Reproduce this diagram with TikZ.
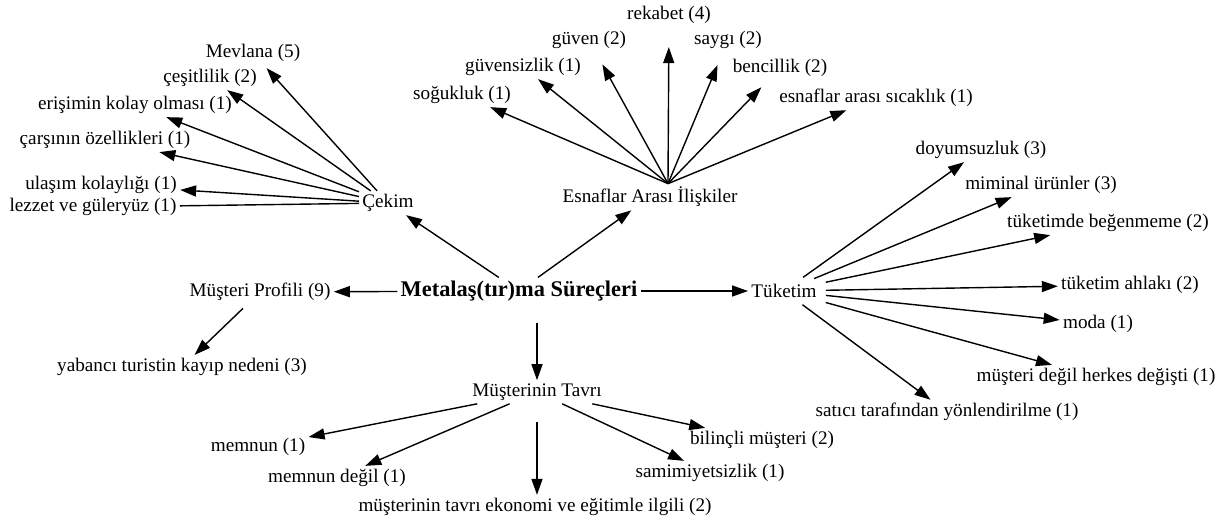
\documentclass[tikz,border=0pt]{standalone}
\usepackage{fontspec}
\setmainfont{Liberation Serif}
\usetikzlibrary{arrows.meta}

\begin{document}
\begin{tikzpicture}[
x=0.5pt,
y=-0.5pt,
lbl/.style={
inner sep=1.5pt,
font=\fontsize{9.6}{11}\selectfont
},
root/.style={
inner sep=1.5pt,
font=\fontsize{11.2}{13}\selectfont\bfseries
},
link/.style={
->,
line width=0.7pt
},
>={Triangle[length=8pt,width=5.5pt]}
]

\useasboundingbox (0,0) rectangle (1227,521);

\node[root] (surec) at (519,291) {Metalaş(tır)ma Süreçleri};

\node[lbl] (cekim) at (388,203) {Çekim};

\node[lbl] (mevlana) at (253,53) {Mevlana (5)};

\node[lbl] (cesit) at (210,78) {çeşitlilik (2)};

\node[lbl] (erisim) at (135,105) {erişimin kolay olması (1)};

\node[lbl] (carsi) at (105,140) {çarşının özellikleri (1)};

\node[lbl] (ulasim) at (101,185) {ulaşım kolaylığı (1)};

\node[lbl] (lezzet) at (93,207) {lezzet ve güleryüz (1)};

\node[lbl] (esnaf) at (650,197) {Esnaflar Arası İlişkiler};

\node[lbl] (soguk) at (462,95) {soğukluk (1)};

\node[lbl] (guvensiz) at (523,67) {güvensizlik (1)};

\node[lbl] (guven) at (589,40) {güven (2)};

\node[lbl] (rekabet) at (669,15) {rekabet (4)};

\node[lbl] (saygi) at (728,40) {saygı (2)};

\node[lbl] (bencil) at (780,68) {bencillik (2)};

\node[lbl] (sicak) at (876,98) {esnaflar arası sıcaklık (1)};

\node[lbl] (tuketim) at (784,291) {Tüketim};

\node[lbl] (doyum) at (981,150) {doyumsuzluk (3)};

\node[lbl] (miminal) at (1041,185) {miminal ürünler (3)};

\node[lbl] (begen) at (1108,223) {tüketimde beğenmeme (2)};

\node[lbl] (ahlak) at (1130,285) {tüketim ahlakı (2)};

\node[lbl] (moda) at (1098,324) {moda (1)};

\node[lbl] (herkes) at (1096,377) {müşteri değil herkes değişti (1)};

\node[lbl] (satici) at (947,412) {satıcı tarafından yönlendirilme (1)};

\node[lbl] (profil) at (260,292) {Müşteri Profili (9)};

\node[lbl] (yabanci) at (182,367) {yabancı turistin kayıp nedeni (3)};

\node[lbl] (tavri) at (537,392) {Müşterinin Tavrı};

\node[lbl] (memnun) at (258,447) {memnun (1)};

\node[lbl] (memdegil) at (337,478) {memnun değil (1)};

\node[lbl] (ekonomi) at (535,507) {müşterinin tavrı ekonomi ve eğitimle ilgili (2)};

\node[lbl] (samimi) at (710,473) {samimiyetsizlik (1)};

\node[lbl] (bilincli) at (762,440) {bilinçli müşteri (2)};

\draw[link] (surec) -- (cekim);

\draw[link] (surec) -- (esnaf);

\draw[link] (surec) -- (profil);

\draw[link] (surec) -- (tuketim);

\draw[link, shorten <=9pt] (tavri.north |- surec.south) -- (tavri);

\draw[link, shorten >=2pt] (cekim) -- (mevlana);

\draw[link] (cekim) -- (cesit);

\draw[link] (cekim) -- (erisim);

\draw[link] (cekim) -- (carsi);

\draw[link] (cekim) -- (ulasim);

\draw[line width=0.7pt] (cekim) -- (lezzet);

\draw[link] ([xshift=9pt]esnaf.north) -- (soguk);

\draw[link] ([xshift=9pt]esnaf.north) -- (guvensiz);

\draw[link, shorten >=7pt] ([xshift=9pt]esnaf.north) -- (guven);

\draw[link, shorten >=10pt] ([xshift=9pt]esnaf.north) -- (rekabet);

\draw[link, shorten >=7pt] ([xshift=9pt]esnaf.north) -- (saygi);

\draw[link, shorten >=5pt] ([xshift=9pt]esnaf.north) -- (bencil);

\draw[link] ([xshift=9pt]esnaf.north) -- (sicak);

\draw[link, shorten <=3pt] (tuketim) -- (doyum);

\draw[link, shorten <=3pt] (tuketim) -- (miminal);

\draw[link, shorten <=3pt] (tuketim) -- (begen);

\draw[link, shorten <=3pt] (tuketim) -- (ahlak);

\draw[link, shorten <=3pt] (tuketim) -- (moda);

\draw[link, shorten <=3pt] (tuketim) -- (herkes);

\draw[link, shorten <=3pt] (tuketim) -- (satici);

\draw[link, shorten <=3pt] (profil) -- (yabanci);

\draw[link] (tavri) -- (memnun);

\draw[link] (tavri) -- (memdegil);

\draw[link, shorten <=9pt] (tavri.south) -- (tavri.south |- ekonomi.north);

\draw[link] (tavri) -- (samimi);

\draw[link] (tavri) -- (bilincli);

\end{tikzpicture}
\end{document}
